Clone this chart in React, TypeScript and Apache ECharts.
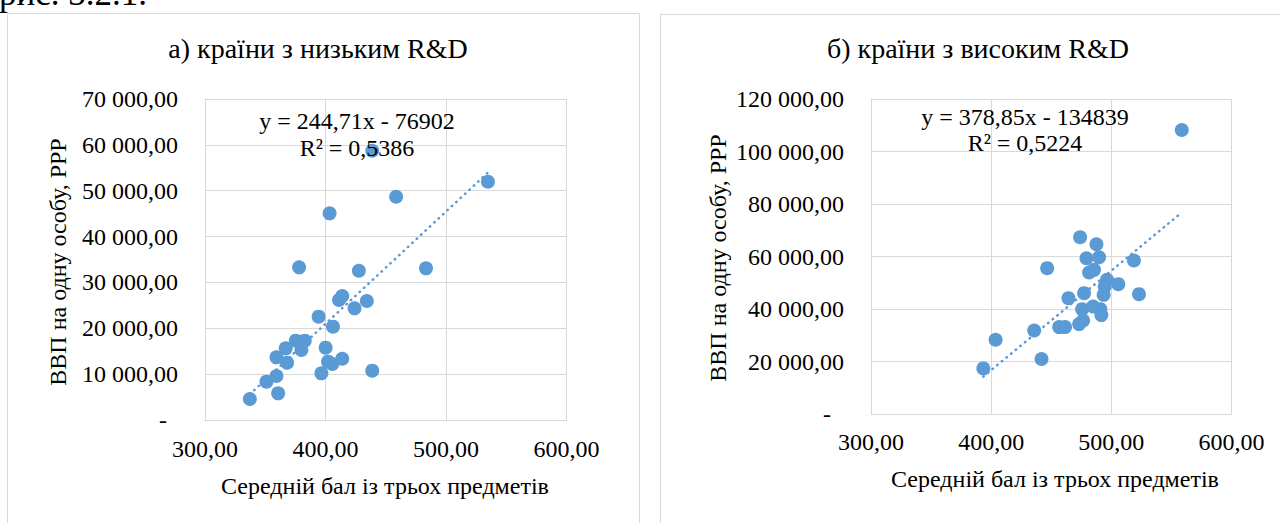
import React, { useEffect, useRef } from "react";
import * as echarts from "echarts";

// ---- Data: a) low R&D countries ----
const lowScores = [
  337.2, 351.0, 359.3, 360.7, 359.3, 368.1, 367.0, 375.3, 382.8, 380.0,
  378.1, 394.3, 396.6, 400.1, 402.1, 405.7, 413.9, 406.2, 411.2, 413.9,
  424.1, 434.3, 427.7, 403.4, 438.8, 438.8, 458.6, 483.4, 534.8,
];
const lowGdp = [
  4580, 8360, 9590, 5810, 13660, 12500, 15630, 17300, 17300, 15260,
  33290, 22530, 10170, 15770, 12720, 12210, 13370, 20350, 26160, 27030,
  24350, 25940, 32560, 45060, 58720, 10760, 48690, 33070, 51960,
];
const lowSlope = 244.71;
const lowIntercept = -76902;
const lowEq = "y = 244,71x - 76902";
const lowR2 = "R² = 0,5386";

// ---- Data: b) high R&D countries ----
const highScores = [
  393.5, 403.7, 435.8, 441.9, 446.6, 456.6, 461.5, 464.3, 473.2, 476.5,
  477.3, 474.0, 475.7, 479.3, 481.5, 485.6, 487.6, 489.8, 484.8, 490.9,
  491.7, 493.6, 494.5, 496.4, 505.8, 518.8, 523.0, 558.6,
];
const highGdp = [
  17370, 28280, 31830, 20930, 55550, 33100, 33100, 44130, 34240, 35640,
  46040, 67340, 39950, 59350, 53900, 54910, 64680, 59730, 40960, 39950,
  37670, 45400, 48570, 51110, 49460, 58470, 45660, 108180,
];
const highSlope = 378.85;
const highIntercept = -134839;
const highEq = "y = 378,85x - 134839";
const highR2 = "R² = 0,5224";

// ---- Texts / ticks ----
const titleLow = "а) країни з низьким R&D";
const titleHigh = "б) країни з високим R&D";
const xTitle = "Середній бал із трьох предметів";
const yTitle = "ВВП на одну особу, PPP";
const xTicks = { min: 300, max: 600, interval: 100 };
const yTicksLow = { min: 0, max: 70000, interval: 10000 };
const yTicksHigh = { min: 0, max: 120000, interval: 20000 };
const captionText = "рис. 3.2.1.";

const FONT = "Liberation Serif";
const BLUE = "#5B9BD5";
const GRID = "#D9D9D9";

function fmtNum(v: number): string {
  const s = v.toFixed(2);
  const [ip, dp] = s.split(".");
  return ip.replace(/\B(?=(\d{3})+(?!\d))/g, " ") + "," + dp;
}

function trend(xs: number[], a: number, b: number) {
  const lo = Math.min(...xs);
  const hi = Math.max(...xs);
  return [
    [lo, a * lo + b],
    [hi, a * hi + b],
  ];
}

export default function App() {
  const ref = useRef<HTMLDivElement>(null);
  useEffect(() => {
    if (!ref.current) return;
    const chart = echarts.init(ref.current, undefined, { renderer: "svg" });

    const xAxisBase = (gridIndex: number, margin: number) => ({
      type: "value",
      gridIndex,
      min: xTicks.min,
      max: xTicks.max,
      interval: xTicks.interval,
      axisLine: { show: true, lineStyle: { color: GRID, width: 1 } },
      axisTick: { show: false },
      splitLine: { show: true, lineStyle: { color: GRID, width: 1 } },
      axisLabel: {
        fontFamily: FONT,
        fontSize: 24,
        color: "#000",
        margin,
        formatter: (v: number) => fmtNum(v),
      },
    });
    const yAxisBase = (gridIndex: number, t: any, pad: number) => ({
      type: "value",
      gridIndex,
      min: t.min,
      max: t.max,
      interval: t.interval,
      axisLine: { show: true, lineStyle: { color: GRID, width: 1 } },
      axisTick: { show: false },
      splitLine: { show: true, lineStyle: { color: GRID, width: 1 } },
      axisLabel: {
        fontFamily: FONT,
        fontSize: 24,
        color: "#000",
        margin: 27,
        formatter: (v: number) => (v === 0 ? "{z|-}" : fmtNum(v)),
        rich: {
          z: { fontFamily: FONT, fontSize: 24, color: "#000", padding: [0, pad, 0, 0] },
        },
      },
    });

    const txt = (x: number, y: number, text: string, size: number, extra: any = {}) => ({
      type: "text",
      x,
      y,
      z: 100,
      ...extra,
      style: {
        text,
        fontFamily: FONT,
        fontSize: size,
        fill: "#000",
        align: "center",
        verticalAlign: "middle",
        ...(extra.style || {}),
      },
    });

    chart.setOption({
      animation: false,
      backgroundColor: "#fff",
      grid: [
        { left: 205, top: 99, width: 361.5, height: 321 },
        { left: 871, top: 99, width: 360.5, height: 315 },
      ],
      xAxis: [xAxisBase(0, 17), xAxisBase(1, 16)],
      yAxis: [yAxisBase(0, yTicksLow, 11), yAxisBase(1, yTicksHigh, 13)],
      series: [
        {
          type: "scatter",
          xAxisIndex: 0,
          yAxisIndex: 0,
          data: lowScores.map((x, i) => [x, lowGdp[i]]),
          symbolSize: 14,
          itemStyle: { color: BLUE, opacity: 1 },
          z: 2,
        },
        {
          type: "line",
          xAxisIndex: 0,
          yAxisIndex: 0,
          data: trend(lowScores, lowSlope, lowIntercept),
          showSymbol: false,
          lineStyle: { color: BLUE, width: 2.5, type: [0.5, 5.5], cap: "round" },
          z: 3,
        },
        {
          type: "scatter",
          xAxisIndex: 1,
          yAxisIndex: 1,
          data: highScores.map((x, i) => [x, highGdp[i]]),
          symbolSize: 14,
          itemStyle: { color: BLUE, opacity: 1 },
          z: 2,
        },
        {
          type: "line",
          xAxisIndex: 1,
          yAxisIndex: 1,
          data: trend(highScores, highSlope, highIntercept),
          showSymbol: false,
          lineStyle: { color: BLUE, width: 2.5, type: [0.5, 5.5], cap: "round" },
          z: 3,
        },
      ],
      graphic: [
        {
          type: "rect",
          z: 0,
          shape: { x: 7.5, y: 13.5, width: 632, height: 600 },
          style: { fill: "none", stroke: GRID, lineWidth: 1 },
        },
        {
          type: "rect",
          z: 0,
          shape: { x: 660.5, y: 14.5, width: 700, height: 600 },
          style: { fill: "none", stroke: GRID, lineWidth: 1 },
        },
        txt(147, 11, captionText, 35, { style: { align: "right", verticalAlign: "bottom" } }),
        txt(318, 48, titleLow, 28),
        txt(978, 48, titleHigh, 28),
        txt(385, 486, xTitle, 24),
        txt(1055, 479, xTitle, 24),
        txt(58, 262, yTitle, 24, { rotation: Math.PI / 2 }),
        txt(718, 258, yTitle, 24, { rotation: Math.PI / 2 }),
        txt(357, 121, lowEq, 24),
        txt(357, 148, lowR2, 24),
        txt(1025, 117, highEq, 24),
        txt(1025, 143, highR2, 24),
      ],
    });
    return () => chart.dispose();
  }, []);
  return (
    <div
      ref={ref}
      style={{ position: "fixed", left: 0, top: 0, width: 1280, height: 523, background: "#fff" }}
    />
  );
}
